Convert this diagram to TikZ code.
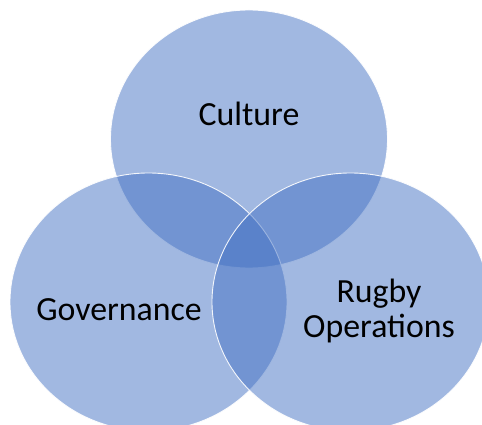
\documentclass[tikz,border=0pt]{standalone}
\usepackage{fontspec}
\setmainfont{Carlito}
\begin{document}
\begin{tikzpicture}[x=1pt,y=-1pt,
  setfill/.style={fill={rgb,255:red,68;green,114;blue,196},fill opacity=0.5,
    draw=white,draw opacity=0.9,line width=0.9pt},
  label/.style={font=\fontsize{33.8}{35}\selectfont,text=black,align=center,inner sep=0pt}]
  \useasboundingbox (0,0) rectangle (482,425);
  \clip (0,0) rectangle (482,425);
  \fill[white] (0,0) rectangle (482,425);
  % three overlapping sets
  \path[setfill] (249,139) ellipse [x radius=138.5,y radius=129];
  \path[setfill] (148.5,302) ellipse [x radius=138.5,y radius=129];
  \path[setfill] (350.5,302) ellipse [x radius=138.5,y radius=129];
  % set labels
  \node[label] (culture) at (249,114) {Culture};
  \node[label] (gov) at (119,310) {Governance};
  \node[label] (rugby) at (379,311) {Rugby\\Operations};
\end{tikzpicture}
\end{document}
